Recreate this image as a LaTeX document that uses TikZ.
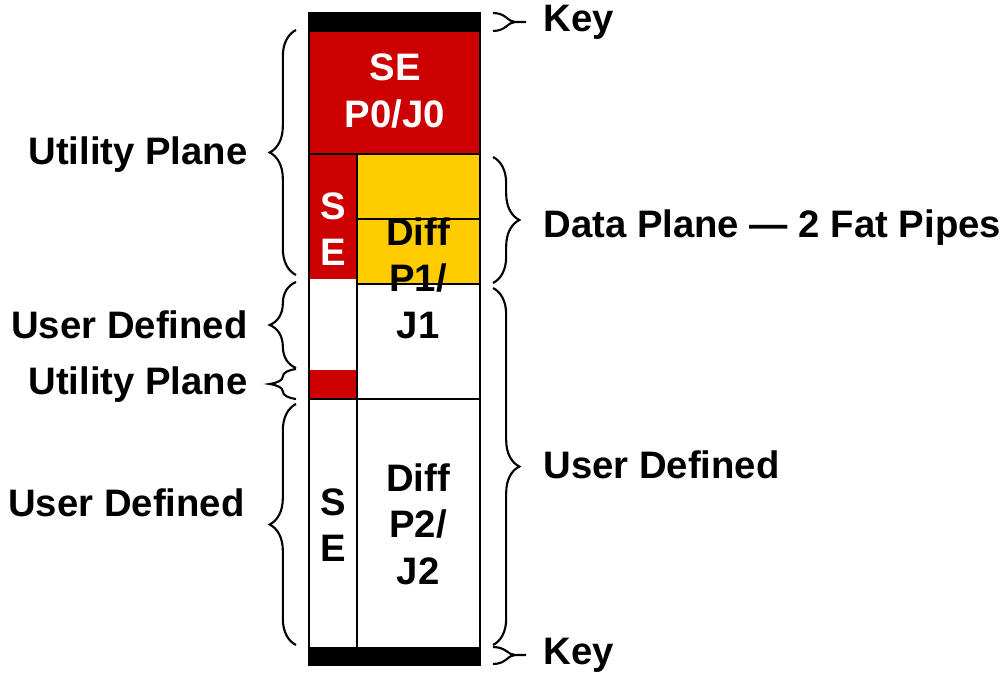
\documentclass[tikz,border=0pt]{standalone}
\usepackage{fontspec}
\setmainfont{Liberation Sans}
\usetikzlibrary{decorations.pathreplacing}

\definecolor{sered}{HTML}{CC0000}
\definecolor{diffyellow}{HTML}{FFCC00}

\begin{document}
\begin{tikzpicture}[x=0.02cm, y=-0.02cm, line width=1.6pt,
  lbl/.style={font=\fontsize{21.8}{26.5}\selectfont\bfseries, align=center, inner sep=0pt},
  brc/.style={decorate, decoration={brace, amplitude=15pt}, line width=1.2pt}]
  \useasboundingbox (0,0) rectangle (1003,675);
  % fills of the column (key bars, SE and Diff areas)
  \fill[black] (309,13) rectangle (480,32);
  \fill[sered] (309,32) rectangle (480,154);
  \fill[sered] (309,154) rectangle (357,279);
  \fill[diffyellow] (357,154) rectangle (480,284);
  \fill[sered] (309,370) rectangle (357,399);
  \fill[black] (309,647) rectangle (480,665);
  % dividing lines
  \draw (309,154) -- (480,154);
  \draw (357,154) -- (357,647);
  \draw[line width=0.9pt] (357,219) -- (480,219);
  \draw (357,284) -- (480,284);
  \draw (309,399) -- (480,399);
  \draw (309,13) rectangle (480,665);
  % texts inside the column
  \node[lbl, text=white] (se0) at (395,91) {SE\\P0/J0};
  \node[lbl, text=white] (se1) at (333,229) {S\\E};
  \node[lbl] (diff1) at (418,278) {Diff\\P1/\\J1};
  \node[lbl] (se2) at (333,525) {S\\E};
  \node[lbl] (diff2) at (418,524) {Diff\\P2/\\J2};
  % left side
  \node[lbl, anchor=east] (util1) at (249,155) {Utility Plane};
  \node[lbl, anchor=east] (user1) at (249,325) {User Defined};
  \node[lbl, anchor=east] (util2) at (249,385) {Utility Plane};
  \node[lbl, anchor=east] (user2) at (246,503) {User Defined};
  \draw[brc] (296,275) -- (296,30);
  \draw[brc] (296,368) -- (296,282);
  \draw[brc] (296,399) -- (296,369);
  \draw[brc] (296,645) -- (296,404);
  % right side
  \node[lbl, anchor=west] (key1) at (542,22) {Key};
  \node[lbl, anchor=west] (data) at (542,228) {Data Plane — 2 Fat Pipes};
  \node[lbl, anchor=west] (user3) at (542,465) {User Defined};
  \node[lbl, anchor=west] (key2) at (542,655) {Key};
  \draw[brc] (493,157) -- (493,283);
  \draw[brc] (493,288) -- (493,645);
  \draw[line width=1.2pt] (493,13) .. controls (506,13) and (508,22) .. (515,22) -- (526,22);
  \draw[line width=1.2pt] (493,31) .. controls (506,31) and (508,22) .. (515,22);
  \draw[line width=1.2pt] (493,647) .. controls (506,647) and (508,655) .. (515,655) -- (526,655);
  \draw[line width=1.2pt] (493,664) .. controls (506,664) and (508,655) .. (515,655);
\end{tikzpicture}
\end{document}
